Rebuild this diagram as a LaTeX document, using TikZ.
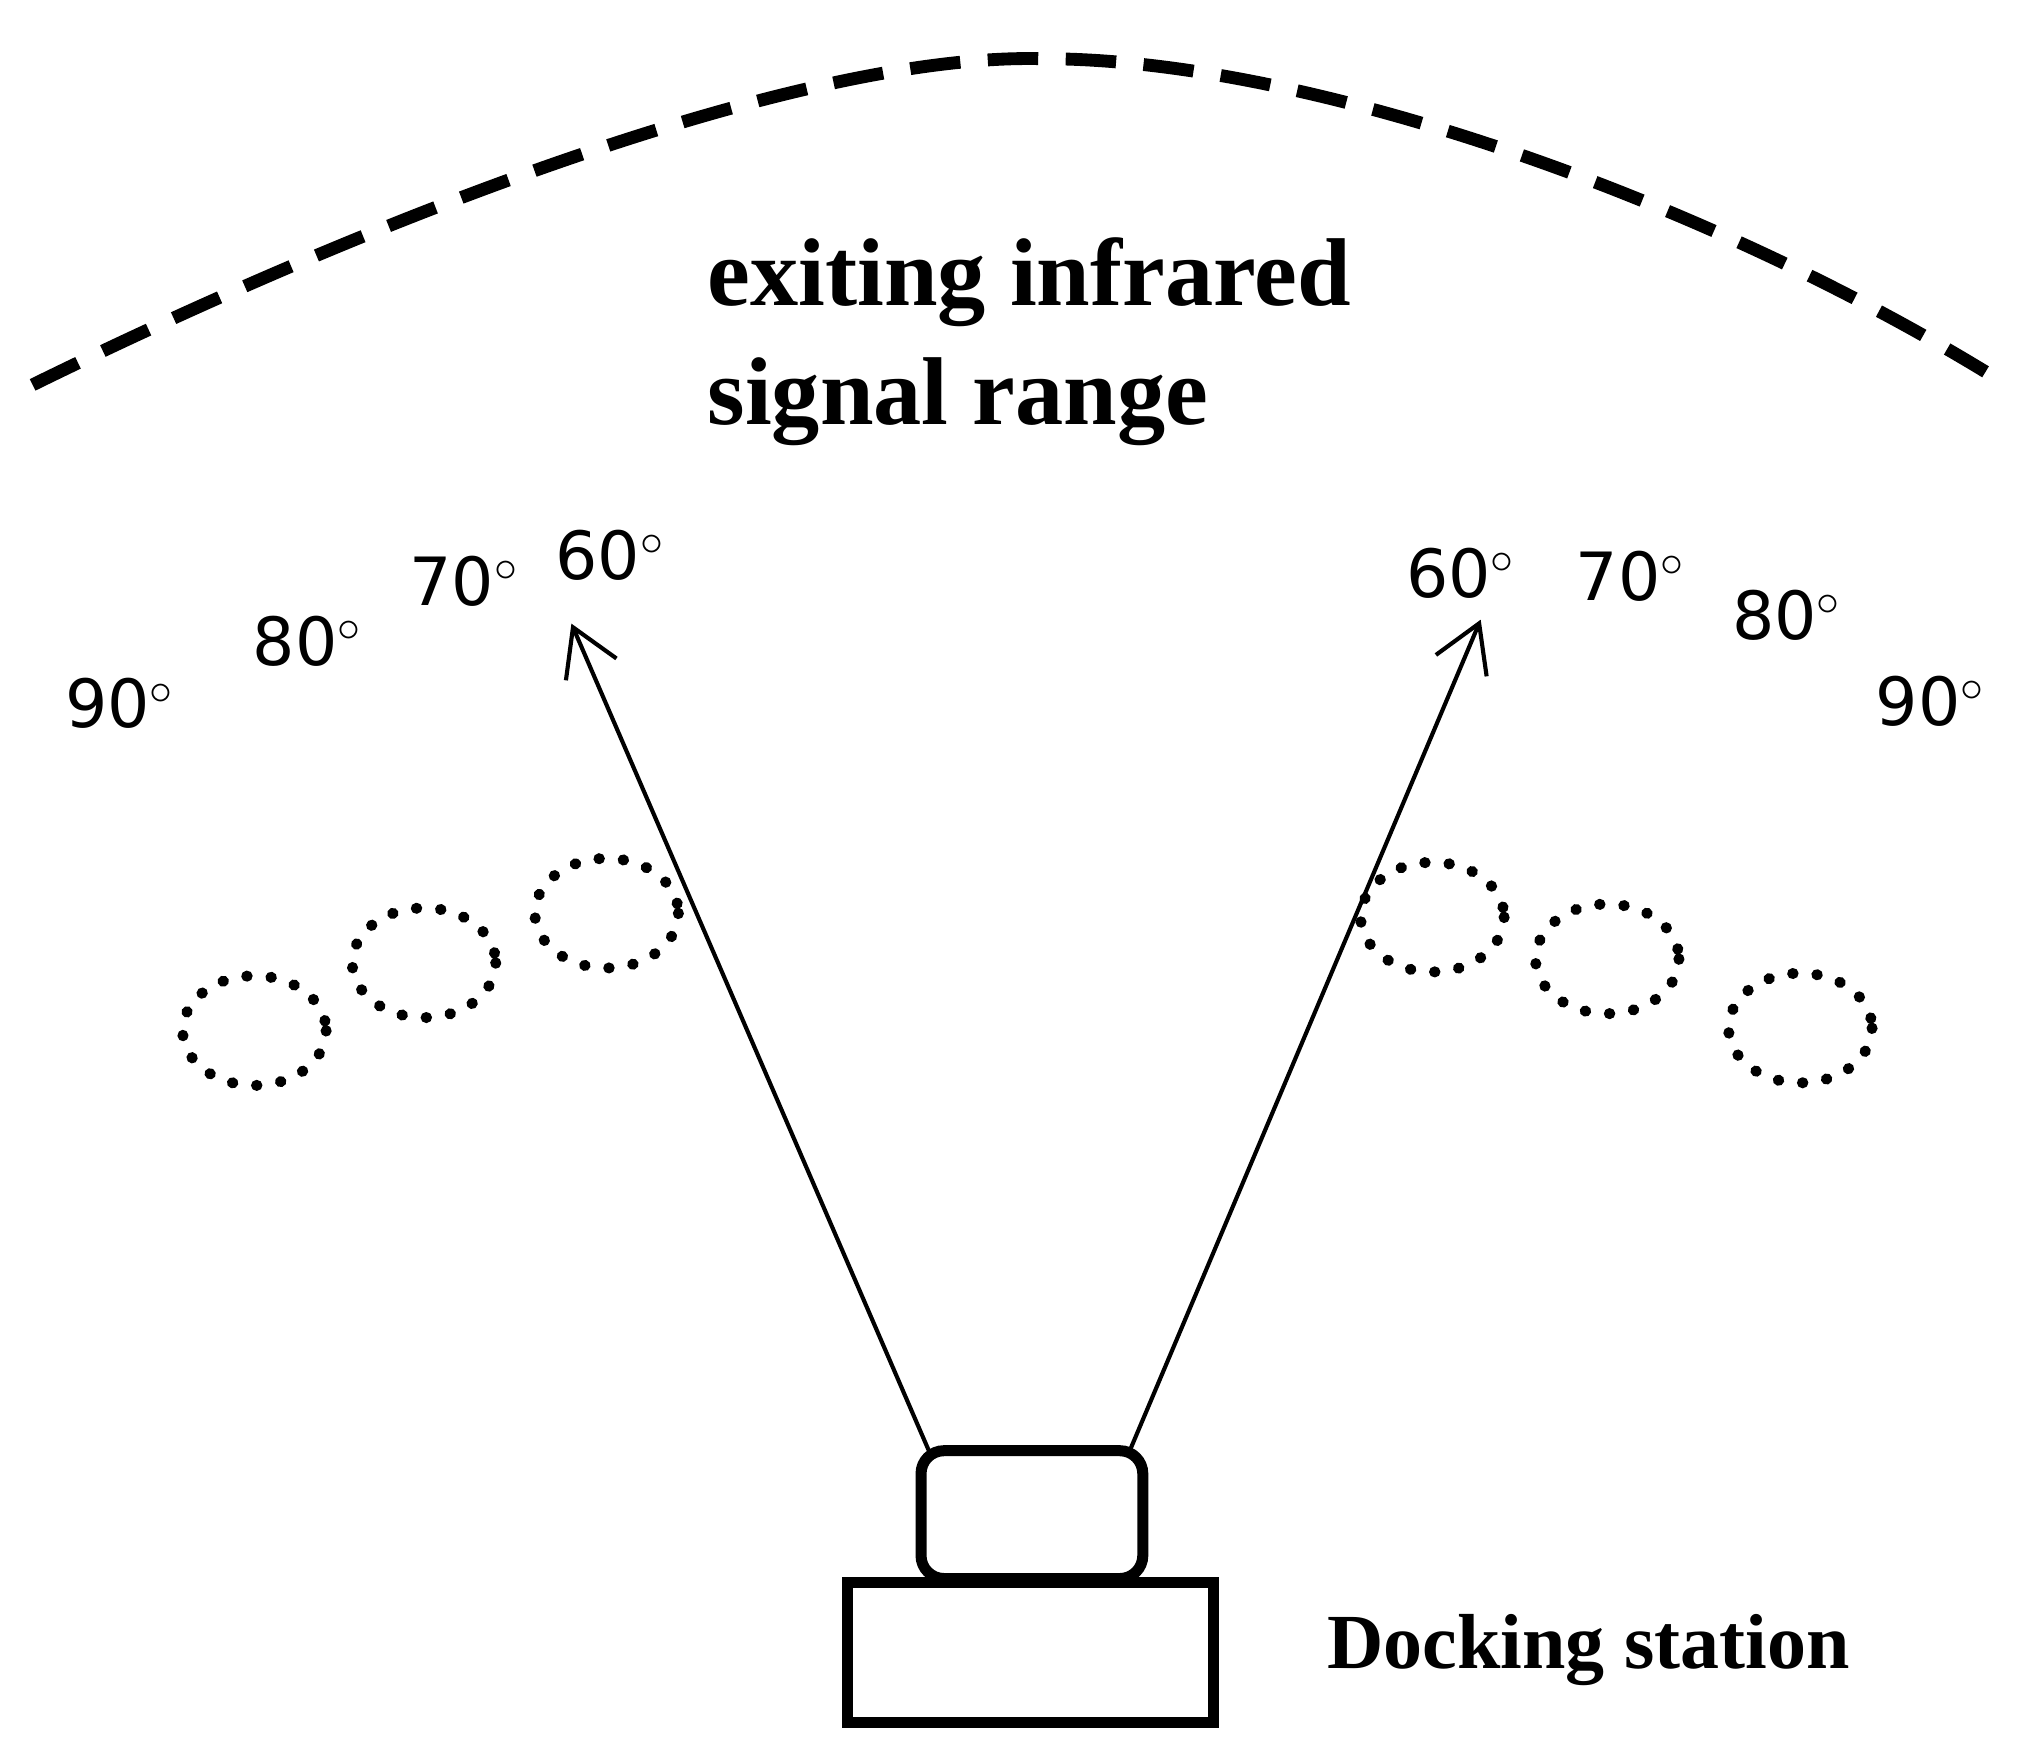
\documentclass[tikz,border=0pt]{standalone}
\usepackage{fontspec}
\setmainfont{Liberation Serif}
\newfontfamily\angf{DejaVu Sans}
\usetikzlibrary{arrows.meta}
\begin{document}
\begin{tikzpicture}[x=0.01cm,y=-0.01cm,
  ang/.style={font=\angf\fontsize{14.5}{14.5}\selectfont,anchor=base,inner sep=0},
  dot/.style={line width=2.4pt,dash pattern=on 0.1pt off 5.2pt,line cap=round},
  box/.style={draw,line width=2.4pt}]
\useasboundingbox (0,0) rectangle (1553,1347);
\draw[line width=2.8pt,dash pattern=on 11pt off 6pt] (25,295) .. controls (300,160) and (620,40) .. (800,45) .. controls (1000,45) and (1300,150) .. (1522,285);
\node[anchor=west,align=left,font=\bfseries\fontsize{21}{26}\selectfont] (t) at (530,262) {exiting infrared\\signal range};
\node[ang] (l90) at (92,558) {90$^\circ$};
\node[ang] (l80) at (236,510) {80$^\circ$};
\node[ang] (l70) at (356,464) {70$^\circ$};
\node[ang] (l60) at (468,444) {60$^\circ$};
\node[ang] (r60) at (1120,458) {60$^\circ$};
\node[ang] (r70) at (1250,460) {70$^\circ$};
\node[ang] (r80) at (1370,490) {80$^\circ$};
\node[ang] (r90) at (1480,556) {90$^\circ$};
\draw[dot] (195,790) ellipse (55 and 42);
\draw[dot] (325,738) ellipse (55 and 42);
\draw[dot] (465,700) ellipse (55 and 42);
\draw[dot] (1098,703) ellipse (55 and 42);
\draw[dot] (1232,735) ellipse (55 and 42);
\draw[dot] (1380,788) ellipse (55 and 42);
\draw[box,rounded corners=5pt] (706,1112) rectangle (876,1210);
\draw[box] (650,1213) rectangle (930,1320);
\coordinate (a1) at (712,1112);
\coordinate (a2) at (866,1112);
\coordinate (h1) at (438,478);
\coordinate (h2) at (1135,475);
\draw[line width=0.9pt,-{Straight Barb[length=10pt,width=12pt]}] (a1) -- (h1);
\draw[line width=0.9pt,-{Straight Barb[length=10pt,width=12pt]}] (a2) -- (h2);
\node[anchor=west,font=\bfseries\fontsize{17}{17}\selectfont] (ds) at (1005,1265) {Docking station};
\end{tikzpicture}
\end{document}
